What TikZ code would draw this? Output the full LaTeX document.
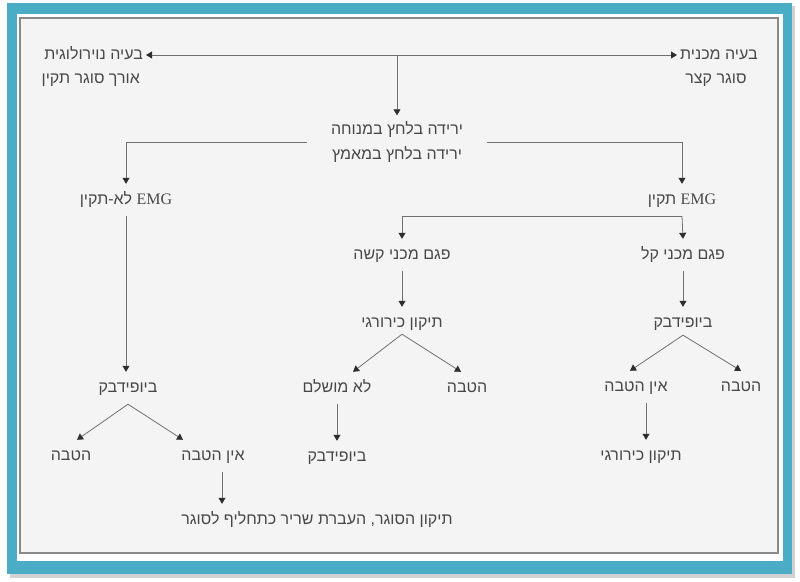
\documentclass[tikz,border=0pt]{standalone}
\usepackage{fontspec}
\newfontfamily\hebfont[Script=Hebrew]{Liberation Sans}
\newfontfamily\emgfont{Liberation Serif}
\TeXXeTstate=1
\usetikzlibrary{arrows.meta,calc}
\definecolor{frameteal}{HTML}{4BACC6}
\definecolor{paper}{HTML}{F4F4F4}
\definecolor{edgegray}{HTML}{8A8A8A}
\definecolor{txt}{HTML}{484848}
\definecolor{linec}{HTML}{707070}
\definecolor{tipc}{HTML}{2E2E2E}
\newcommand{\heb}[1]{\beginR #1\endR}
\tikzset{
  lbl/.style={font=\hebfont\fontsize{16}{19}\selectfont, text=txt, inner xsep=3pt, inner ysep=9pt, text height=11pt, text depth=3pt},
  arr/.style={draw=linec, line width=0.8pt, -{Triangle[width=7pt,length=6pt,color=tipc]}},
}
\begin{document}
\begin{tikzpicture}[x=1pt,y=-1pt]
\useasboundingbox (0,0) rectangle (800,581);
% frame
\fill[white] (0,0) rectangle (800,581);
\fill[black!18] (10,6) rectangle (795,578);
\fill[frameteal] (7,3) rectangle (792,574);
\fill[white] (17,14) rectangle (783,561);
\filldraw[fill=paper, draw=edgegray, line width=1.2pt] (20,18) rectangle (778,553);
% nodes
\node[lbl, anchor=east] (neuroA) at (146,55) {\heb{בעיה נוירולוגית}};
\node[lbl, anchor=east] (neuroB) at (143,79) {\heb{אורך סוגר תקין}};
\node[lbl, anchor=west] (mechA) at (677,55) {\heb{בעיה מכנית}};
\node[lbl] (mechB) at (716,79) {\heb{סוגר קצר}};
\node[font=\hebfont\fontsize{16}{25}\selectfont, text=txt, align=center, inner xsep=24pt, inner ysep=6pt] (drop) at (397,142) {\heb{ירידה בלחץ במנוחה}\\\heb{ירידה בלחץ במאמץ}};
\node[lbl] (emgbad) at (126,200) {\heb{{\emgfont EMG} לא-תקין}};
\node[lbl] (emgok) at (682,200) {\heb{{\emgfont EMG} תקין}};
\node[lbl] (light) at (683,255) {\heb{פגם מכני קל}};
\node[lbl] (hard) at (402,255) {\heb{פגם מכני קשה}};
\node[lbl] (surg1) at (402,323) {\heb{תיקון כירורגי}};
\node[lbl] (incomp) at (337,388) {\heb{לא מושלם}};
\node[lbl] (good1) at (467,388) {\heb{הטבה}};
\node[lbl] (bio1) at (337,457) {\heb{ביופידבק}};
\node[lbl] (bio2) at (683,323) {\heb{ביופידבק}};
\node[lbl] (nogood2) at (636,387) {\heb{אין הטבה}};
\node[lbl] (good2) at (741,387) {\heb{הטבה}};
\node[lbl] (surg2) at (641,456) {\heb{תיקון כירורגי}};
\node[lbl] (bio3) at (128,388) {\heb{ביופידבק}};
\node[lbl] (good3) at (71,456) {\heb{הטבה}};
\node[lbl] (nogood3) at (213,456) {\heb{אין הטבה}};
\node[lbl] (final) at (317,520) {\heb{תיקון הסוגר, העברת שריר כתחליף לסוגר}};
\coordinate (top) at (397,55);
% connectors
\draw[arr] (top) -- (neuroA.east);
\draw[arr] (top) -- (mechA.west);
\draw[arr] (top) -- (drop.north);
\draw[arr] (drop.west) -| (emgbad.south |- emgbad.north);
\draw[arr] (drop.east) -| (emgok.north);
\draw[arr] (emgbad.south) -- (emgbad.south |- bio3.north);
\draw[arr] (emgok.south) -- (light.north);
\draw[arr] (emgok.south) -| (hard.north);
\draw[arr] (hard.south) -- (surg1.north);
\draw[arr] (light.south) -- (bio2.north);
\draw[arr] ([yshift=5pt]surg1.south) -- ([xshift=16pt]incomp.north);
\draw[arr] ([yshift=5pt]surg1.south) -- ([xshift=-6pt]good1.north);
\draw[arr] (incomp.south) -- (bio1.north);
\draw[arr] ([yshift=4pt]bio2.south) -- ([xshift=-6pt]nogood2.north);
\draw[arr] ([yshift=4pt]bio2.south) -- (good2.north);
\draw[arr] ([xshift=10pt]nogood2.south) -- ([xshift=10pt]nogood2.south |- surg2.north);
\draw[arr] (bio3.south) -- ([xshift=6pt]good3.north);
\draw[arr] (bio3.south) -- ([xshift=-30pt]nogood3.north);
\draw[arr] ([xshift=9pt]nogood3.south) -- ([xshift=9pt]nogood3.south |- final.north);
\end{tikzpicture}
\end{document}
